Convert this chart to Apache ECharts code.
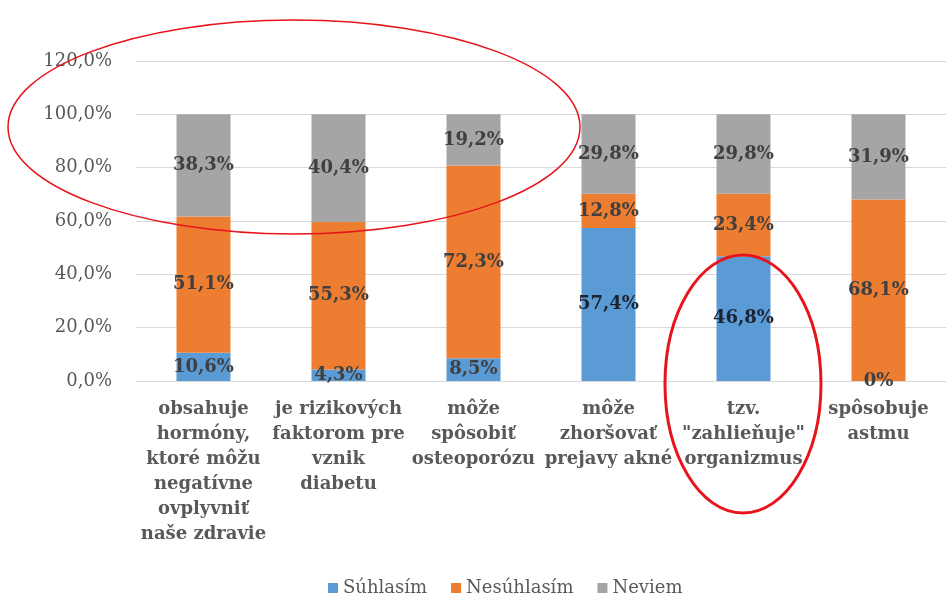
<!DOCTYPE html>
<html>
<head>
<meta charset="UTF-8">
<title>Súhlas s tvrdeniami</title>
<script src="https://cdn.jsdelivr.net/npm/echarts@6/dist/echarts.min.js"></script>
<style>
  body { margin: 0; padding: 0; background: white; }
  #main { width: 946px; height: 595px; }
</style>
</head>
<body>
<div id="main"></div>
<script>
var categories = [
  'obsahuje\nhormóny,\nktoré môžu\nnegatívne\novplyvniť\nnaše zdravie',
  'je rizikových\nfaktorom pre\nvznik\ndiabetu',
  'môže\nspôsobiť\nosteoporózu',
  'môže\nzhoršovať\nprejavy akné',
  'tzv.\n"zahlieňuje"\norganizmus',
  'spôsobuje\nastmu'
];
var suhlasim = [10.6, 4.3, 8.5, 57.4, 46.8, 0];
var nesuhlasim = [51.1, 55.3, 72.3, 12.8, 23.4, 68.1];
var neviem = [38.3, 40.4, 19.2, 29.8, 29.8, 31.9];
var seriesNames = ['Súhlasím', 'Nesúhlasím', 'Neviem'];
var colors = ['#5b9bd5', '#ed7d31', '#a5a5a5'];

var serif = '"DejaVu Serif", serif';

function pct(v) {
  if (v === 0) return '0%';
  return v.toFixed(1).replace('.', ',') + '%';
}

function labelStyle() {
  return {
    show: true,
    position: 'inside',
    fontFamily: serif,
    fontWeight: 'bold',
    fontSize: 18,
    color: '#404040',
    formatter: function (p) { return pct(p.value); }
  };
}

// darker labels on the two tall blue bars
var blueData = suhlasim.map(function (v) {
  if (v > 40) return { value: v, label: { color: '#1b2230' } };
  return v;
});

var chart = echarts.init(document.getElementById('main'));
chart.setOption({
  backgroundColor: '#fff',
  animation: false,
  color: colors,
  grid: { left: 136, right: 0, top: 61, bottom: 214 },
  legend: {
    top: 574,
    left: 323,
    icon: 'rect',
    itemWidth: 10,
    itemHeight: 10,
    itemGap: 24,
    textStyle: { fontFamily: serif, fontSize: 18, color: '#595959' },
    data: seriesNames
  },
  xAxis: {
    type: 'category',
    data: categories,
    axisLine: { lineStyle: { color: '#d9d9d9' } },
    axisTick: { show: false },
    axisLabel: {
      interval: 0,
      margin: 16,
      fontFamily: serif,
      fontWeight: 'bold',
      fontSize: 18,
      lineHeight: 25,
      color: '#595959'
    }
  },
  yAxis: {
    type: 'value',
    min: 0,
    max: 120,
    interval: 20,
    axisLine: { show: false },
    axisTick: { show: false },
    splitLine: { lineStyle: { color: '#d9d9d9' } },
    axisLabel: {
      margin: 24,
      fontFamily: serif,
      fontSize: 18,
      color: '#595959',
      formatter: function (v) { return v.toFixed(1).replace('.', ',') + '%'; }
    }
  },
  series: [
    { name: seriesNames[0], type: 'bar', stack: 'a', barWidth: 54, data: blueData, label: labelStyle() },
    { name: seriesNames[1], type: 'bar', stack: 'a', barWidth: 54, data: nesuhlasim, label: labelStyle() },
    { name: seriesNames[2], type: 'bar', stack: 'a', barWidth: 54, data: neviem, label: labelStyle() }
  ],
  graphic: [
    {
      type: 'ellipse',
      z: 100,
      shape: { cx: 294, cy: 127, rx: 286, ry: 107 },
      style: { fill: 'none', stroke: '#e8141c', lineWidth: 1.5 }
    },
    {
      type: 'ellipse',
      z: 100,
      shape: { cx: 743, cy: 384, rx: 78, ry: 129 },
      style: { fill: 'none', stroke: '#e8141c', lineWidth: 3 }
    }
  ]
});
</script>
</body>
</html>
